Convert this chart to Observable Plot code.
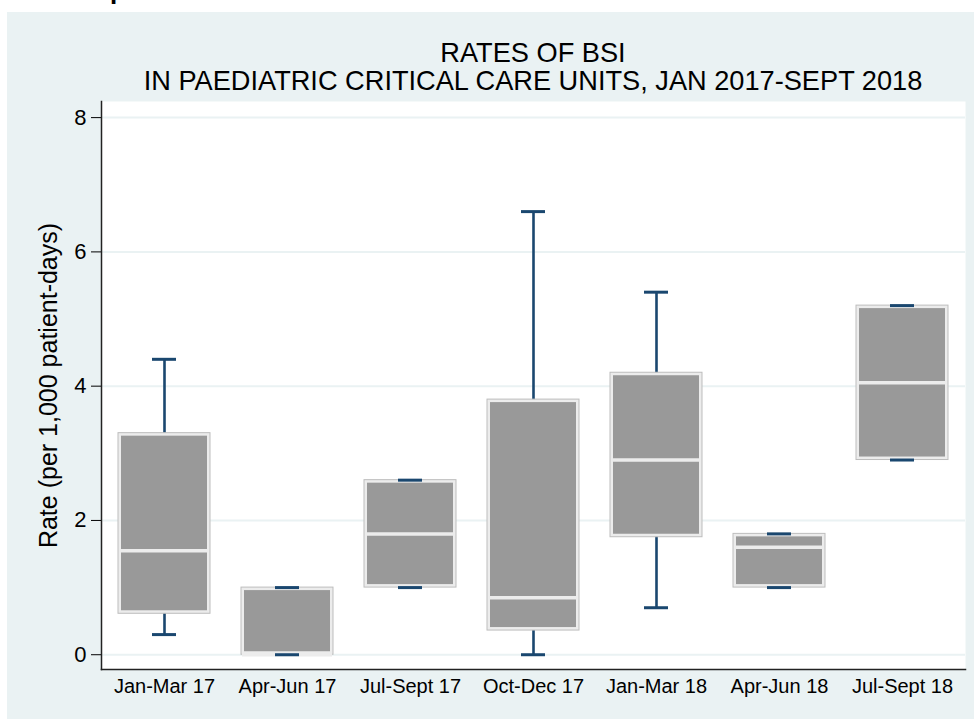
<!DOCTYPE html>
<html>
<head>
<meta charset="utf-8">
<script src="https://cdn.jsdelivr.net/npm/d3@7"></script>
<script src="https://cdn.jsdelivr.net/npm/@observablehq/plot@0.6"></script>
<style>
html, body { margin: 0; padding: 0; background: #ffffff; width: 974px; height: 719px; overflow: hidden;
  font-family: "Liberation Sans", Arial, sans-serif; }
#cut { position: absolute; left: 110px; top: -23px; font-weight: bold; font-size: 26px; line-height: 26px; color: #000; }
#panel { position: absolute; left: 7px; top: 12px; width: 967px; height: 707px; background: #eaf2f3; }
#title { position: absolute; left: 94px; top: 26.6px; width: 864px; text-align: center; font-size: 27.2px; line-height: 28px; color: #000; }
#chart { position: absolute; left: 0; top: 0; }
</style>
</head>
<body>
<div id="cut">p</div>
<div id="panel">
  <div id="chart"></div>
  <div id="title">RATES OF BSI<br>IN PAEDIATRIC CRITICAL CARE UNITS, JAN 2017-SEPT 2018</div>
</div>
<script>
const categories = ["Jan-Mar 17", "Apr-Jun 17", "Jul-Sept 17", "Oct-Dec 17", "Jan-Mar 18", "Apr-Jun 18", "Jul-Sept 18"];
const whiskerLow  = [0.30, 0.00, 1.00, 0.00, 0.70, 1.00, 2.90];
const quartile1   = [0.61, 0.00, 1.00, 0.36, 1.75, 1.00, 2.90];
const median      = [1.55, 0.00, 1.80, 0.85, 2.90, 1.60, 4.05];
const quartile3   = [3.30, 1.00, 2.60, 3.80, 4.20, 1.80, 5.20];
const whiskerHigh = [4.40, 1.00, 2.60, 6.60, 5.40, 1.80, 5.20];
const yTicks = [0, 2, 4, 6, 8];
const yTitle = "Rate (per 1,000 patient-days)";

const data = categories.map((c, i) => ({
  cat: c, lo: whiskerLow[i], q1: quartile1[i], med: median[i], q3: quartile3[i], hi: whiskerHigh[i]
}));

const navy = "#1a476f";
const plot = Plot.plot({
  width: 967,
  height: 707,
  marginLeft: 94,
  marginRight: 9,
  marginTop: 89,
  marginBottom: 50,
  style: { background: "transparent", fontFamily: "'Liberation Sans', Arial, sans-serif", color: "#000" },
  x: { domain: categories, paddingInner: 0.25, paddingOuter: 0.125, label: null },
  y: { domain: [-0.22, 8.24], label: null },
  marks: [
    Plot.frame({ fill: "white", stroke: "none" }),
    Plot.gridY(yTicks, { stroke: "#eaf2f3", strokeOpacity: 1, strokeWidth: 2 }),
    Plot.ruleX(data, { x: "cat", y1: "lo", y2: "hi", stroke: navy, strokeWidth: 2.6 }),
    Plot.barY(data, { x: "cat", y1: "q1", y2: "q3", fill: "#ececec", stroke: "#bdbdbd", strokeWidth: 1 }),
    Plot.barY(data, { x: "cat", y1: "q1", y2: "q3", fill: "#999999", inset: 3 }),
    Plot.tickY(data, { x: "cat", y: "med", stroke: "#ececec", strokeWidth: 3.5, insetLeft: 1, insetRight: 1 }),
    Plot.tickY(data, { x: "cat", y: "lo", stroke: navy, strokeWidth: 3, insetLeft: 34, insetRight: 34 }),
    Plot.tickY(data, { x: "cat", y: "hi", stroke: navy, strokeWidth: 3, insetLeft: 34, insetRight: 34 }),
    Plot.axisY(yTicks, { tickSize: 10, tickPadding: 5, fontSize: 22, tickFormat: d3.format("d"), label: null }),
    Plot.axisX({ tickSize: 0, tickPadding: 9, fontSize: 20, label: null }),
    Plot.frame({ anchor: "left", stroke: "#222", strokeWidth: 1.5 }),
    Plot.frame({ anchor: "bottom", stroke: "#222", strokeWidth: 1.5 }),
    Plot.text([yTitle], { text: d => d, frameAnchor: "left", textAnchor: "middle", rotate: -90, dx: -53, fontSize: 25, fill: "#000" })
  ]
});
document.getElementById("chart").appendChild(plot);
</script>
</body>
</html>
